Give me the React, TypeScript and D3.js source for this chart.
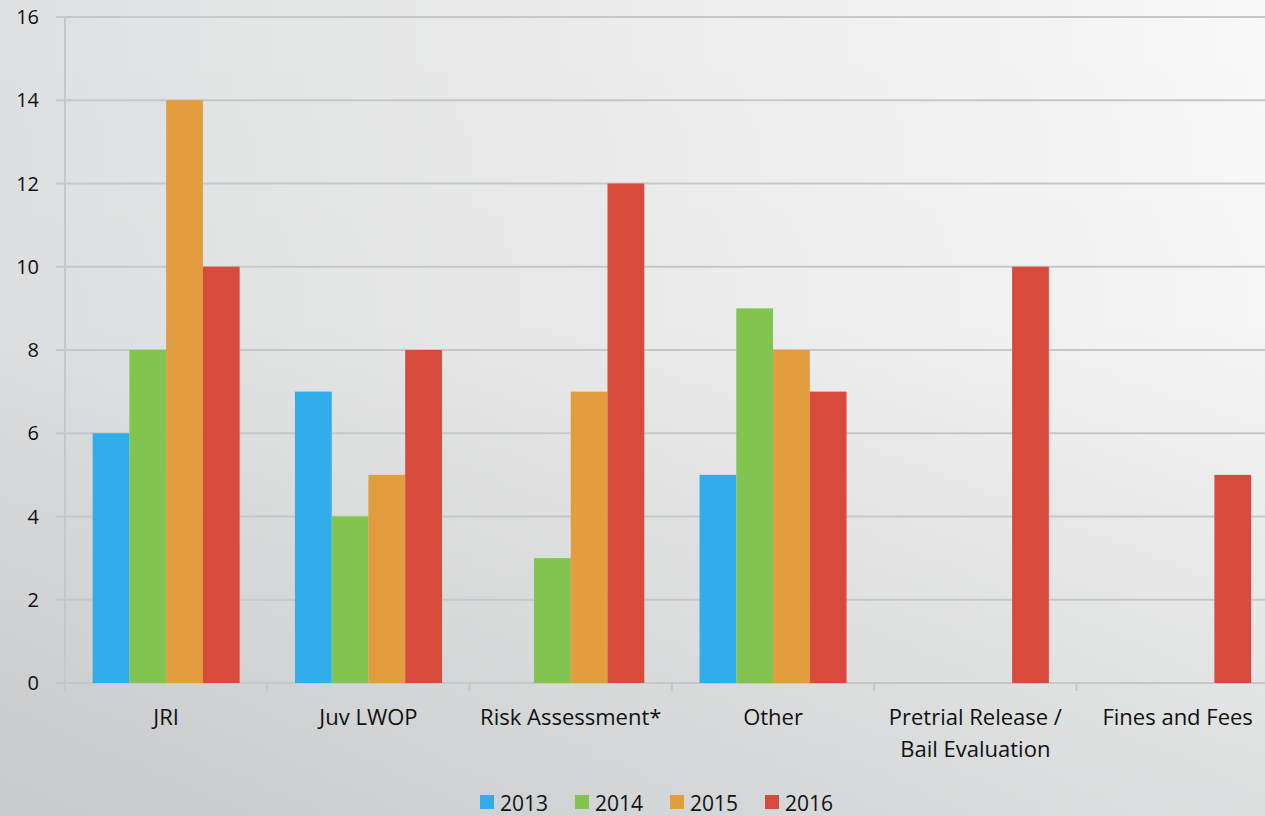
import React from "react";
import * as d3 from "d3";

const categories = ["JRI", "Juv LWOP", "Risk Assessment*", "Other", "Pretrial Release /\nBail Evaluation", "Fines and Fees"];
const seriesNames = ["2013", "2014", "2015", "2016"];
const colors = ["#30aeeb", "#82c450", "#e39c3e", "#d84a3b"];
const v2013 = [6, 7, 0, 5, 0, 0];
const v2014 = [8, 4, 3, 9, 0, 0];
const v2015 = [14, 5, 7, 8, 0, 0];
const v2016 = [10, 8, 12, 7, 10, 5];
const yTicks = [0, 2, 4, 6, 8, 10, 12, 14, 16];

const W = 1265;
const H = 816;
const left = 65;
const top = 17;
const bottom = 683;
const bandW = 202.3;

export default function App() {
  const series = [v2013, v2014, v2015, v2016];
  const x = d3.scaleBand<string>().domain(categories).range([left, left + bandW * categories.length]).paddingInner(0).paddingOuter(0);
  const y = d3.scaleLinear().domain([0, 16]).range([bottom, top]);
  const groupW = 147;
  const inner = d3.scaleBand<string>().domain(seriesNames).range([(bandW - groupW) / 2, (bandW + groupW) / 2]);
  const font = "'Open Sans', 'Noto Sans', sans-serif";
  return (
    <svg width={W} height={H} style={{ position: "absolute", left: 0, top: 0, display: "block" }}>
      <defs>
        <linearGradient id="bgH" x1="0" y1="0" x2="1" y2="0">
          <stop offset="0" stopColor="#dfe0e1" />
          <stop offset="1" stopColor="#f8f8f8" />
        </linearGradient>
        <linearGradient id="bgV" x1="0" y1="0" x2="0" y2="1">
          <stop offset="0" stopColor="#000" stopOpacity="0" />
          <stop offset="0.4" stopColor="#000" stopOpacity="0.01" />
          <stop offset="1" stopColor="#1a2a30" stopOpacity="0.12" />
        </linearGradient>
      </defs>
      <rect x={0} y={0} width={W} height={H} fill="url(#bgH)" />
      <rect x={0} y={0} width={W} height={H} fill="url(#bgV)" />
      {yTicks.map((t) => (
        <g key={t}>
          <line x1={56} x2={W} y1={y(t)} y2={y(t)} stroke="#c6c7c9" strokeWidth={2} />
          <text x={39} y={y(t) + 7} textAnchor="end" fontFamily={font} fontSize={20} fill="#111">{t}</text>
        </g>
      ))}
      <line x1={left} x2={left} y1={top} y2={bottom + 8} stroke="#c6c7c9" strokeWidth={2} />
      {categories.map((c, i) => (
        <line key={"t" + i} x1={x(c)! + bandW} x2={x(c)! + bandW} y1={bottom} y2={bottom + 8} stroke="#c6c7c9" strokeWidth={2} />
      ))}
      {categories.map((c, i) =>
        series.map((s, j) =>
          s[i] > 0 ? (
            <rect key={c + j} x={x(c)! + inner(seriesNames[j])!} y={y(s[i])} width={inner.bandwidth()} height={y(0) - y(s[i])} fill={colors[j]} />
          ) : null
        )
      )}
      {categories.map((c) => {
        const lines = c.split("\n");
        return (
          <text key={"l" + c} x={x(c)! + bandW / 2} y={725} textAnchor="middle" fontFamily={font} fontSize={22} fill="#111">
            {lines.map((ln, k) => (
              <tspan key={k} x={x(c)! + bandW / 2} dy={k === 0 ? 0 : 32}>{ln}</tspan>
            ))}
          </text>
        );
      })}
      {seriesNames.map((s, j) => (
        <g key={s} transform={`translate(${480 + j * 95},0)`}>
          <rect x={0} y={795} width={14} height={14} fill={colors[j]} />
          <text x={20} y={811} fontFamily={font} fontSize={21} fill="#111">{s}</text>
        </g>
      ))}
    </svg>
  );
}
